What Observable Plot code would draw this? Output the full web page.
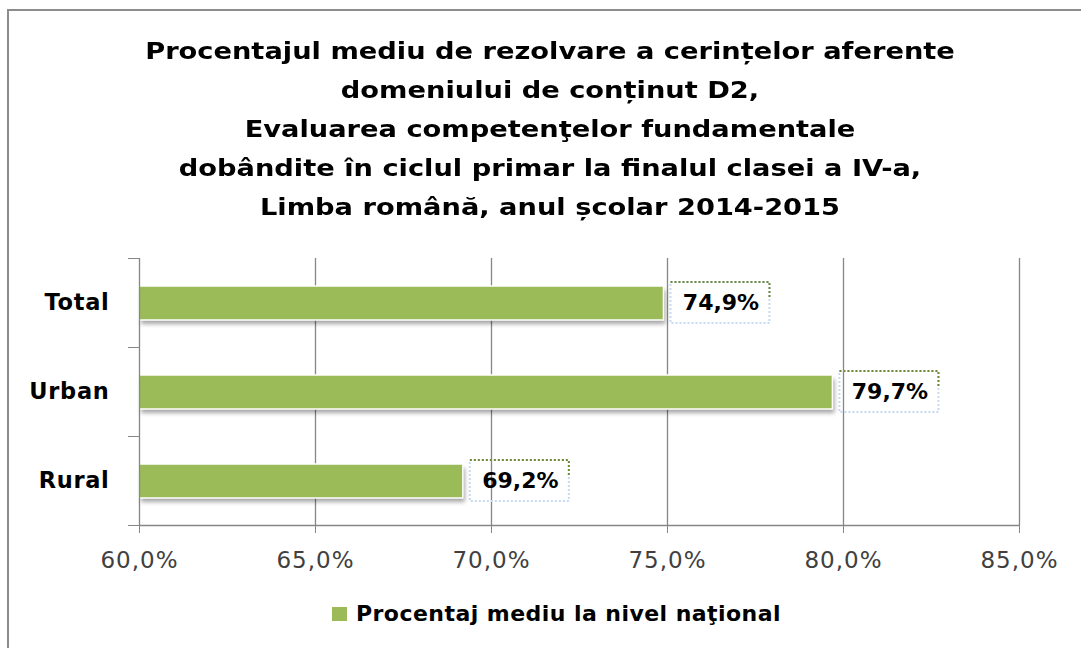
<!DOCTYPE html>
<html>
<head>
<meta charset="utf-8">
<script src="https://cdn.jsdelivr.net/npm/d3@7"></script>
<script src="https://cdn.jsdelivr.net/npm/@observablehq/plot@0.6"></script>
<style>
  html, body { margin: 0; padding: 0; background: #fff; }
  body { width: 1081px; height: 648px; position: relative; overflow: hidden; font-family: "DejaVu Sans", Verdana, sans-serif; }
  #frame { position: absolute; left: 7px; top: 9px; width: 1200px; height: 800px; border-left: 2.5px solid #8c8c8c; border-top: 2.5px solid #8c8c8c; }
  #title { position: absolute; left: 0; top: 32px; width: 1100px; text-align: center; font-weight: bold; font-size: 23.5px; line-height: 39px; color: #000; transform: scaleX(1.16); transform-origin: 550px 0; }
  #chart { position: absolute; left: 0; top: 240px; }
  #legend { position: absolute; left: 332px; top: 601px; font-weight: bold; font-size: 22px; letter-spacing: 0.45px; color: #000; display: flex; align-items: center; white-space: nowrap; }
  #legend .sw { width: 15px; height: 14px; background: #9bbb59; margin-right: 9px; }
  #chart g[aria-label="y-axis tick label"] text { letter-spacing: 0.7px; }
  #chart g[aria-label="x-axis tick label"] text { letter-spacing: 1px; }
</style>
</head>
<body>
<div id="frame"></div>
<div id="title"></div>
<div id="chart"></div>
<div id="legend"><span class="sw"></span><span id="legtext"></span></div>
<script>
const titleLines = [
  "Procentajul mediu de rezolvare a cerințelor aferente",
  "domeniului de conținut D2,",
  "Evaluarea competenţelor fundamentale",
  "dobândite în ciclul primar la finalul clasei a IV-a,",
  "Limba română, anul școlar 2014-2015"
];
const categories = ["Total", "Urban", "Rural"];
const values = [74.9, 79.7, 69.2];
const xTicks = [60, 65, 70, 75, 80, 85];
const seriesName = "Procentaj mediu la nivel naţional";

const fmt = d => d.toFixed(1).replace(".", ",") + "%";
const data = categories.map((c, i) => ({category: c, i, value: values[i], label: fmt(values[i])}));

document.getElementById("title").innerHTML = titleLines.join("<br>");
document.getElementById("legtext").textContent = seriesName;

// dotted green pattern for top edge + upper right side of label boxes
const greenDash = Array(29).fill("2,2").join(",") + ",0,400";

const plot = Plot.plot({
  width: 1081,
  height: 330,
  marginLeft: 139,
  marginRight: 62,
  marginTop: 18,
  marginBottom: 45,
  style: {fontFamily: "DejaVu Sans, Verdana, sans-serif", background: "transparent", overflow: "visible"},
  x: {domain: [xTicks[0], xTicks[xTicks.length - 1]]},
  y: {domain: [0, categories.length], reverse: true},
  marks: [
    Plot.ruleX(xTicks.slice(1), {stroke: "#868686", strokeWidth: 1.3}),
    // shadow
    Plot.rect(data, {x1: () => xTicks[0], x2: "value", y1: "i", y2: d => d.i + 1, insetTop: 28, insetBottom: 27, dx: 2, dy: 4, fill: "#000", fillOpacity: 0.35}),
    // bars
    Plot.rect(data, {x1: () => xTicks[0], x2: "value", y1: "i", y2: d => d.i + 1, insetTop: 28, insetBottom: 27, fill: "#9bbb59", stroke: "#ffffff", strokeWidth: 1.5}),
    // axes lines
    Plot.ruleX([xTicks[0]], {stroke: "#868686", strokeWidth: 1.3}),
    Plot.ruleY([categories.length], {stroke: "#868686", strokeWidth: 1.3}),
    Plot.axisX({ticks: xTicks, tickSize: 8, tickPadding: 18, tickFormat: fmt, fontSize: 23, color: "#404040", stroke: "#868686", label: null}),
    Plot.axisY({ticks: d3.range(categories.length + 1), tickSize: 11, tickFormat: () => "", stroke: "#868686", label: null}),
    Plot.axisY({ticks: categories.map((c, i) => i + 0.5), tickSize: 0, tickPadding: 30, tickFormat: d => categories[Math.floor(d)], fontSize: 22.5, fontWeight: "bold", color: "#000", label: null}),
    // label boxes
    Plot.rect(data, {x1: "value", x2: "value", y1: "i", y2: d => d.i + 1, insetLeft: 7, insetRight: -106, insetTop: 24, insetBottom: 24, fill: "none", stroke: "#c6d9f1", strokeWidth: 2, strokeDasharray: "2,2"}),
    Plot.rect(data, {x1: "value", x2: "value", y1: "i", y2: d => d.i + 1, insetLeft: 7, insetRight: -106, insetTop: 24, insetBottom: 24, fill: "none", stroke: "#6f8a36", strokeWidth: 2, strokeDasharray: greenDash}),
    Plot.text(data, {x: "value", y: d => d.i + 0.5, text: "label", dx: 57, fontSize: 22, fontWeight: "bold", fill: "#000"})
  ]
});

// soft shadow filter on the first rect group
const ns = "http://www.w3.org/2000/svg";
const defs = document.createElementNS(ns, "defs");
defs.innerHTML = '<filter id="barShadow" x="-5%" y="-50%" width="110%" height="200%"><feGaussianBlur stdDeviation="2"/></filter>';
plot.insertBefore(defs, plot.firstChild);
const rectGroups = plot.querySelectorAll('g[aria-label="rect"]');
if (rectGroups.length) rectGroups[0].setAttribute("filter", "url(#barShadow)");

document.getElementById("chart").appendChild(plot);
</script>
</body>
</html>
